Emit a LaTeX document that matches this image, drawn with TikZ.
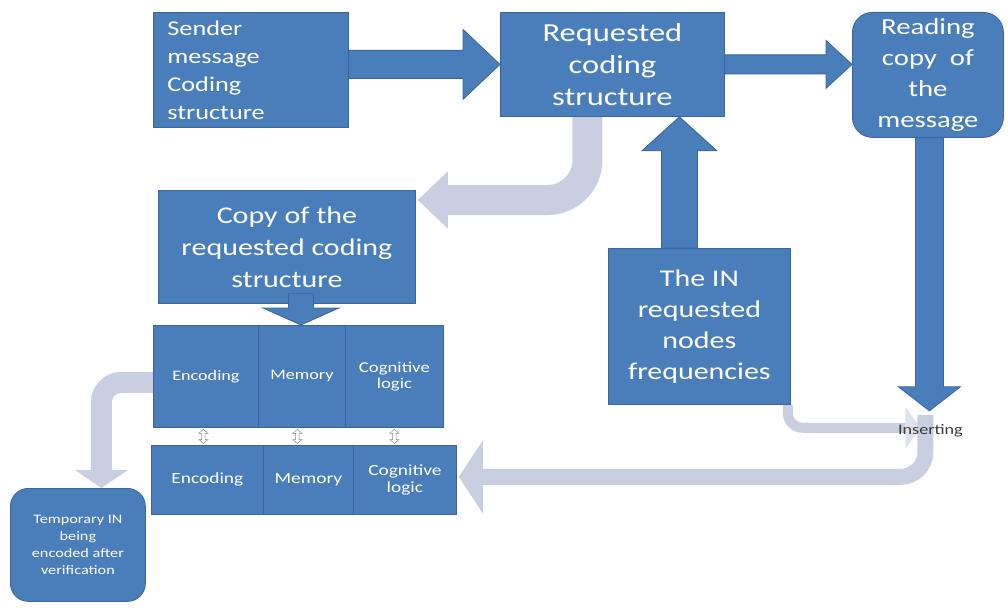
\documentclass[tikz,border=0pt]{standalone}
\usepackage{fontspec}
\setmainfont{Carlito}[FakeStretch=1.25]
\usetikzlibrary{calc}
\definecolor{boxblue}{HTML}{4A7EBB}
\definecolor{boxedge}{HTML}{3A659A}
\definecolor{lightarr}{HTML}{C9CFE1}
\definecolor{instext}{HTML}{3A3A3A}
\pgfdeclarelayer{bg}
\pgfsetlayers{bg,main}
\tikzset{
  box/.style={fill=boxblue, draw=boxedge, line width=0.8pt, text=white, align=center, inner sep=0pt, anchor=north west},
  barrow/.style={fill=boxblue, draw=boxedge, line width=0.8pt},
  larrow/.style={draw=lightarr, line cap=butt},
  lhead/.style={fill=lightarr},
  dbl/.style={fill=white, draw=black!45, line width=0.5pt},
}
\newcommand{\arrR}[5]{\filldraw[barrow] ($(#1)+(0,-#3)$) -- ($(#2)+(-#5,-#3)$) -- ($(#2)+(-#5,-#4)$) -- (#2) -- ($(#2)+(-#5,#4)$) -- ($(#2)+(-#5,#3)$) -- ($(#1)+(0,#3)$) -- cycle;}
\newcommand{\arrD}[5]{\filldraw[barrow] ($(#1)+(-#3,0)$) -- ($(#2)+(-#3,-#5)$) -- ($(#2)+(-#4,-#5)$) -- (#2) -- ($(#2)+(#4,-#5)$) -- ($(#2)+(#3,-#5)$) -- ($(#1)+(#3,0)$) -- cycle;}
\newcommand{\arrU}[5]{\filldraw[barrow] ($(#1)+(-#3,0)$) -- ($(#2)+(-#3,#5)$) -- ($(#2)+(-#4,#5)$) -- (#2) -- ($(#2)+(#4,#5)$) -- ($(#2)+(#3,#5)$) -- ($(#1)+(#3,0)$) -- cycle;}
\newcommand{\dblv}[2]{\draw[dbl] (#1) -- ($(#1)+(4.5,4)$) -- ($(#1)+(1.8,4)$) -- ($(#2)+(1.8,-4)$) -- ($(#2)+(4.5,-4)$) -- (#2) -- ($(#2)+(-4.5,-4)$) -- ($(#2)+(-1.8,-4)$) -- ($(#1)+(-1.8,4)$) -- ($(#1)+(-4.5,4)$) -- cycle;}
\begin{document}
\begin{tikzpicture}[x=1pt,y=-1pt]
\path[use as bounding box] (0,0) rectangle (1008,607);

% boxes
\node[box, minimum width=195pt, minimum height=115pt, text width=167pt, inner xsep=14pt, align=left, font=\fontsize{21}{28}\selectfont] (sender) at (153,12) {Sender\\message\\Coding\\structure};
\node[box, minimum width=224pt, minimum height=104pt, font=\fontsize{26}{32}\selectfont] (requested) at (500,12) {Requested\\coding\\structure};
\node[box, rounded corners=20pt, minimum width=151pt, minimum height=125pt, font=\fontsize{23}{31}\selectfont] (reading) at (852,12) {Reading\\copy\ \ of\\the\\message};
\node[box, minimum width=257pt, minimum height=113pt, font=\fontsize{24}{32}\selectfont] (copy) at (158,190) {Copy of the\\requested coding\\structure};
\node[box, minimum width=182pt, minimum height=156pt, font=\fontsize{24}{31}\selectfont] (IN) at (608,248) {The IN\\requested\\nodes\\frequencies};

\node[box, minimum width=105pt, minimum height=102pt, font=\fontsize{14.5}{16.5}\selectfont] (enc1) at (153,325) {Encoding};
\node[box, minimum width=87pt, minimum height=102pt, font=\fontsize{14.5}{16.5}\selectfont] (mem1) at (258,325) {Memory};
\node[box, minimum width=98pt, minimum height=102pt, font=\fontsize{15}{16.5}\selectfont] (cog1) at (345,325) {Cognitive\\logic};

\node[box, minimum width=112pt, minimum height=69pt, font=\fontsize{15.5}{16.5}\selectfont] (enc2) at (151,445) {Encoding};
\node[box, minimum width=90pt, minimum height=69pt, font=\fontsize{15.5}{16.5}\selectfont] (mem2) at (263,445) {Memory};
\node[box, minimum width=103pt, minimum height=69pt, font=\fontsize{15.5}{16.5}\selectfont] (cog2) at (353,445) {Cognitive\\logic};

\node[box, rounded corners=18pt, minimum width=135pt, minimum height=113pt, font=\fontsize{13}{17}\selectfont] (temp) at (10,488) {Temporary IN\\being\\encoded after\\verification};

% named points
\coordinate (ins) at ($(reading.south)+(1.5,273)$);
\coordinate (a1s) at (sender.east |- requested.west);
\coordinate (a2t) at (reading.west |- requested.east);
\coordinate (a3s) at ($(reading.south)+(1.5,0)$);
\coordinate (a4s) at ($(IN.north)+(-20,0)$);
\coordinate (a4t) at (a4s |- requested.south);
\coordinate (a5s) at ($(copy.south)+(14,-10)$);
\coordinate (a5t) at (a5s |- mem1.north);
\coordinate (l1s) at ($(requested.south)+(-25,0)$);
\coordinate (l1t) at ($(copy.north east)+(2,10)$);
\coordinate (l2s) at ($(enc1.west)+(0,6)$);
\coordinate (l2t) at ($(temp.north)+(23.5,0)$);
\coordinate (l3s) at ($(IN.south east)+(-3,0)$);
\coordinate (l3t) at ($(ins)+(-9,17)$);
\coordinate (l4s) at ($(ins)+(-4,4)$);
\coordinate (l4t) at ($(cog2.east)+(2,-3)$);

% light arrows (background)
\begin{pgfonlayer}{bg}
\draw[larrow, line width=30pt, rounded corners=40pt] (l1s) |- ($(l1t)+(30,0)$);
\fill[lhead] ($(l1t)+(30,-28.5)$) -- (l1t) -- ($(l1t)+(30,28.5)$) -- cycle;
\draw[larrow, line width=21pt, rounded corners=20pt] (l2s) -| ($(l2t)+(0,-18)$);
\fill[lhead] ($(l2t)+(-26.5,-18)$) -- (l2t) -- ($(l2t)+(26.5,-18)$) -- cycle;
\draw[larrow, line width=10pt, rounded corners=15pt] (l3s) |- ($(l3t)+(-15,0)$);
\fill[lhead, opacity=0.6] ($(l3t)+(-15,-21)$) -- (l3t) -- ($(l3t)+(-15,21)$) -- cycle;
\draw[larrow, line width=16pt, rounded corners=25pt] (l4s) |- ($(l4t)+(24,0)$);
\fill[lhead] ($(l4t)+(24,-36.5)$) -- (l4t) -- ($(l4t)+(24,36.5)$) -- cycle;
\end{pgfonlayer}

% blue block arrows
\arrR{a1s}{requested.west}{14}{35}{37}
\arrR{requested.east}{a2t}{9.5}{24}{26}
\arrD{a3s}{ins}{14}{31}{24}
\arrU{a4s}{a4t}{18}{37.5}{34}
\arrD{a5s}{a5t}{12.5}{38}{17}

% small double arrows
\coordinate (d1a) at ($(enc1.south)+(-2.5,1.5)$);
\coordinate (d1b) at ($(d1a |- enc2.north)+(0,-1.5)$);
\coordinate (d2a) at ($(mem1.south)+(-4.5,1.5)$);
\coordinate (d2b) at ($(d2a |- enc2.north)+(0,-1.5)$);
\coordinate (d3a) at ($(cog1.south)+(0,1.5)$);
\coordinate (d3b) at ($(d3a |- enc2.north)+(0,-1.5)$);
\dblv{d1a}{d1b}
\dblv{d2a}{d2b}
\dblv{d3a}{d3b}

\node[font=\fontsize{14.5}{16}\selectfont, text=instext, inner sep=1pt] (instxt) at ($(ins)+(1,20)$) {Inserting};
\end{tikzpicture}
\end{document}
